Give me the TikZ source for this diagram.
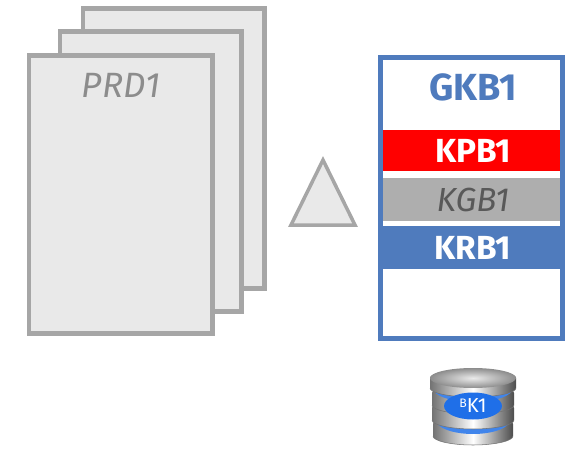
\documentclass[tikz,border=0pt]{standalone}
\usepackage{fontspec}
\setmainfont{Fira Sans}
\usepackage{tikz}
\usetikzlibrary{calc,shapes.geometric}
\definecolor{sheetgray}{HTML}{A6A6A6}
\definecolor{sheetfill}{HTML}{E9E9E9}
\definecolor{keyblue}{HTML}{4F7BBD}
\definecolor{keygray}{HTML}{AEAEAE}
\definecolor{dbblue}{HTML}{1F6FE8}
\def\dbglow(#1:#2:#3){\fill[dbblue!85] (#1, #2) ellipse (#3-3 and 14);}
\def\dbdisc(#1:#2:#3:#4){
	\shade[left color=black!55, right color=black!70, middle color=white] (#1-#4, #2) arc (180:0:#4 and 9) -- (#1+#4, #2-#3) arc (0:-180:#4 and 9) -- cycle;
	\draw[line width=0.3pt, color=black!55] (#1-#4, #2) arc (180:0:#4 and 9);
}
\tikzset{
	sheet/.style={line width=0.1cm, draw=sheetgray, fill=sheetfill},
	keybar/.style={minimum width=3.6cm, minimum height=#1, inner sep=0pt, text=white, font=\bfseries\fontsize{19}{21}\selectfont},
}
\begin{document}
\begin{tikzpicture}[x=0.02cm, y=-0.02cm]
		\useasboundingbox (0, 0) rectangle (569, 450);
		
		%%%%% sheets %%%%%
		\draw[sheet] (83, 8) rectangle (264, 288);
		\draw[sheet] (60, 31) rectangle (241, 311);
		\draw[sheet] (29, 55) rectangle (212, 333);
		\node[text=black!45, font=\itshape\fontsize{20}{22}\selectfont] (prd) at (121, 85) {PRD1};
		
		\draw[sheet, line width=0.07cm] (291, 225) -- (323, 160) -- (355, 225) -- cycle;
		
		%%%%% key box %%%%%
		\fill[white] (380, 57) rectangle (562, 338);
		\node[text=keyblue, font=\bfseries\fontsize{21.5}{24}\selectfont] (gkb) at (473, 87) {GKB1};
		\node[keybar=0.84cm, fill=red] (kpb) at (473, 150.5) {KPB1};
		\node[keybar=0.86cm, fill=keygray, text=black!65, font=\itshape\fontsize{19}{21}\selectfont] (kgb) at (473, 199.5) {KGB1};
		\node[keybar=0.88cm, minimum width=3.66cm, fill=keyblue] (krb) at (473, 247.5) {KRB1};
		\draw[line width=0.1cm, draw=keyblue] (380, 57) rectangle (562, 338);
		
		%%%%% database %%%%%
		\dbdisc(473:436:12:40);
		\dbglow(473:420:40);
		\dbdisc(473:420:12:41);
		\dbdisc(473:405:12:41);
		\dbglow(473:388:43);
		\dbdisc(473:388:10:43);
		\shade[inner color=black!8, outer color=black!45] (473, 378) ellipse (43 and 10);
		\node[ellipse, fill=dbblue, minimum width=1.16cm, minimum height=0.54cm, inner sep=0pt, text=white, font=\fontsize{11.5}{13}\selectfont] (bk) at (473, 406) {\raisebox{3pt}{\fontsize{7}{8}\selectfont B}K1};
	\end{tikzpicture}
\end{document}
